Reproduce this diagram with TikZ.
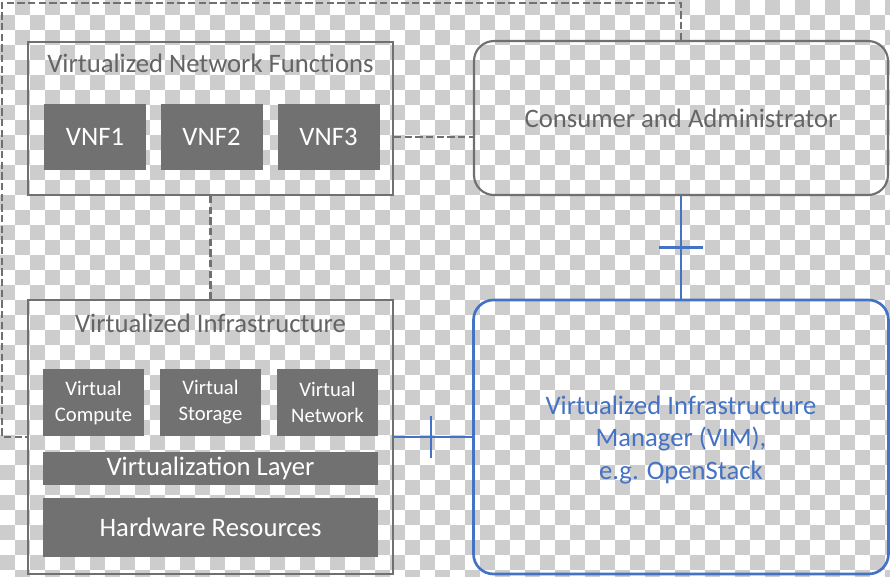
\documentclass[tikz,border=0pt]{standalone}
\usepackage{fontspec}
\setmainfont{Carlito}
\usetikzlibrary{calc}
\definecolor{chk}{RGB}{205,205,205}
\definecolor{edge}{RGB}{112,112,112}
\definecolor{boxfill}{RGB}{113,113,113}
\definecolor{txtgray}{RGB}{100,100,100}
\definecolor{vimblue}{RGB}{68,114,196}
\tikzset{
  plainbox/.style={draw=edge, line width=1.6pt, inner sep=0pt},
  darkbox/.style={fill=boxfill, draw=none, text=white, inner sep=0pt, font=\fontsize{20}{24}\selectfont},
  smallbox/.style={darkbox, align=center, font=\fontsize{15.5}{19.5}\selectfont},
  roundbox/.style={rounded corners=15pt, line width=1.6pt, inner sep=0pt},
  boxtitle/.style={text=txtgray, inner sep=0pt, font=\fontsize{20}{24}\selectfont},
  dashline/.style={draw=edge, line width=1.7pt, dash pattern=on 5.5pt off 2.5pt},
  blueline/.style={draw=vimblue, line width=2pt}
}
\begin{document}
\begin{tikzpicture}[x=0.75pt,y=-0.75pt]
\useasboundingbox (0,0) rectangle (890,576);
\begin{scope}
\clip (0,0) rectangle (890,576);
\fill[white] (0,0) rectangle (890,576);
\foreach \j in {0,...,38}{
  \pgfmathtruncatemacro\s{mod(\j+1,2)}
  \pgfmathtruncatemacro\t{\s+2}
  \foreach \i in {\s,\t,...,59}{
    \fill[chk] (15*\i,15*\j) rectangle ++(15,15);
  }
}
\end{scope}

% Virtualized Network Functions
\node[plainbox, minimum width=365*0.75pt, minimum height=153*0.75pt] (vnf) at (210.5,118.5) {};
\node[boxtitle, anchor=base] (vnftitle) at (210.5,72) {Virtualized Network Functions};
\node[darkbox, minimum width=102*0.75pt, minimum height=66*0.75pt] (vnf1) at (95,137) {VNF1};
\node[darkbox, minimum width=102*0.75pt, minimum height=66*0.75pt] (vnf2) at (211.5,137) {VNF2};
\node[darkbox, minimum width=102*0.75pt, minimum height=66*0.75pt] (vnf3) at (328.5,137) {VNF3};

% Virtualized Infrastructure
\node[plainbox, minimum width=365*0.75pt, minimum height=274*0.75pt] (vi) at (210.5,437) {};
\node[boxtitle, anchor=base] (vititle) at (210.5,332) {Virtualized Infrastructure};
\node[smallbox, minimum width=101*0.75pt, minimum height=67*0.75pt] (vc) at (93.5,402.5) {Virtual\\Compute};
\node[smallbox, minimum width=101*0.75pt, minimum height=67*0.75pt] (vs) at (210.5,402.5) {Virtual\\Storage};
\node[smallbox, minimum width=101*0.75pt, minimum height=67*0.75pt] (vn) at (327.5,402.5) {Virtual\\Network};
\node[darkbox, minimum width=335*0.75pt, minimum height=33*0.75pt] (vl) at (210.5,468.5) {Virtualization Layer};
\node[darkbox, minimum width=335*0.75pt, minimum height=59*0.75pt] (hw) at (210.5,527.5) {Hardware Resources};

% Consumer and Administrator
\node[roundbox, draw=edge, text=txtgray, font=\fontsize{20}{24}\selectfont,
      minimum width=414*0.75pt, minimum height=154*0.75pt] (cons) at (681,118) {Consumer and Administrator};

% VIM
\node[roundbox, draw=vimblue, line width=2pt, align=center, inner sep=0pt,
      minimum width=415*0.75pt, minimum height=274*0.75pt] (vim) at (681,437) {};
\node[text=vimblue, align=center, inner sep=0pt, font=\fontsize{20}{24.5}\selectfont] (vimtext) at (681,440)
      {Virtualized Infrastructure\\Manager (VIM),\\e.g. OpenStack};

% dashed connectors
\draw[dashline] (cons.north) |- (2,3) |- (vi.west |- 0,437);
\draw[dashline] (vnf.east |- 0,137) -- (cons.west |- 0,137);
\draw[dashline] (vnf.south) -- (vi.north);

% blue connectors
\draw[blueline] (cons.south) -- (vim.north);
\coordinate (tk1) at ($(cons.south)!0.5!(vim.north)$);
\draw[blueline] ([xshift=-16.5pt]tk1) -- ([xshift=16.5pt]tk1);
\draw[blueline] (vi.east |- 0,437) -- (vim.west |- 0,437);
\coordinate (tk2) at (431,437);
\draw[blueline] ([yshift=-15.75pt]tk2) -- ([yshift=15.75pt]tk2);
\end{tikzpicture}
\end{document}
